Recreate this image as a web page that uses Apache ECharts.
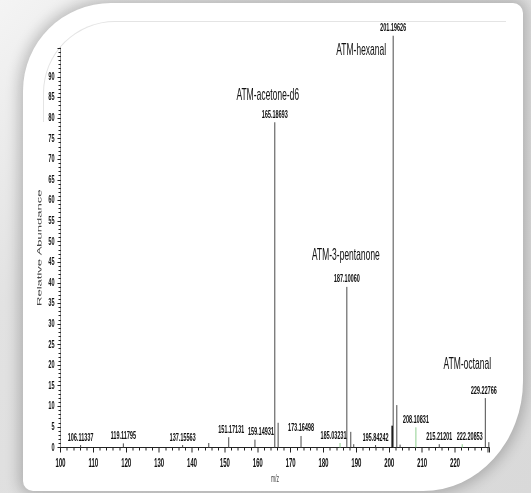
<!DOCTYPE html>
<html>
<head>
<meta charset="utf-8">
<script src="https://cdn.jsdelivr.net/npm/echarts@6/dist/echarts.min.js"></script>
<style>
  html, body { margin: 0; padding: 0; width: 531px; height: 493px; overflow: hidden; background: #e9e9e9; }
  #wrap { position: absolute; left: 0; top: 0; width: 531px; height: 493px; overflow: hidden;
          background: linear-gradient(135deg, #f4f4f4 0%, #e2e2e2 30%, #d9d9d9 100%); }
  #card { position: absolute; left: 23px; top: 3px; width: 500px; height: 488px; background: #fff;
          border-radius: 88px 10px 100px 10px / 88px 10px 110px 10px;
          box-shadow: 0 0 14px 4px rgba(0,0,0,0.22); }
  #inner { position: absolute; left: 43px; top: 21px; width: 462px; height: 100px;
           border-top: 1px solid #e4e4e4; border-left: 1px solid #e4e4e4; border-top-left-radius: 72px; }
  #chart { position: absolute; left: 0; top: 0; width: 1062px; height: 493px;
           transform: scaleX(0.5); transform-origin: 0 0; }
</style>
</head>
<body>
<div id="wrap">
  <div id="card"></div>
  <div id="inner"></div>
  <div id="chart"></div>
</div>
<script>
// ---- data ----
const mz = [106.11337, 119.11795, 137.15563, 145.1, 151.17131, 159.14931, 165.18693, 166.2,
            173.16498, 185.03231, 187.10060, 188.3, 189.2, 195.84242, 200.9, 201.19626,
            202.3, 203.3, 208.10831, 215.21201, 222.20853, 229.22766, 230.3];
const intensity = [0.6, 1.0, 0.6, 1.1, 2.5, 1.9, 79.0, 6.0,
                   2.8, 1.1, 39.0, 3.8, 0.8, 0.6, 5.3, 100,
                   10.3, 0.7, 4.9, 0.8, 0.8, 12.0, 1.3];
const peakLabels = ['106.11337', '119.11795', '137.15563', '', '151.17131', '159.14931', '165.18693', '',
                    '173.16498', '185.03231', '187.10060', '', '', '195.84242', '', '201.19626',
                    '', '', '208.10831', '215.21201', '222.20853', '229.22766', ''];
const compounds = ['', '', '', '', '', '', 'ATM-acetone-d6', '',
                   '', '', 'ATM-3-pentanone', '', '', '', '', 'ATM-hexanal',
                   '', '', '', '', '', 'ATM-octanal', ''];
const xTicks = [100, 110, 120, 130, 140, 150, 160, 170, 180, 190, 200, 210, 220];
const yTicks = [0, 5, 10, 15, 20, 25, 30, 35, 40, 45, 50, 55, 60, 65, 70, 75, 80, 85, 90];

// ---- styling (chart space is 2x wider, squeezed by CSS scaleX(0.5)) ----
const FONT = "'Liberation Sans', Arial, sans-serif";
const greenPeaks = new Set(['185.03231', '208.10831', '222.20853']);
const numDx = { '151.17131': 5, '159.14931': 12, '185.03231': -13, '222.20853': 15, '229.22766': -3 };
const compOffset = {
  'ATM-acetone-d6': [-14, -27],
  'ATM-3-pentanone': [-2, -32],
  'ATM-hexanal': [-64, 15],
  'ATM-octanal': [-36, -34]
};

const chart = echarts.init(document.getElementById('chart'), null, { renderer: 'canvas' });
chart.setOption({
  backgroundColor: 'transparent',
  animation: false,
  grid: { left: 121, right: 83, top: 48, bottom: 45.5 },
  xAxis: {
    type: 'value', min: 100, max: 230.5, interval: 10,
    name: 'm/z', nameLocation: 'middle', nameGap: 19,
    nameTextStyle: { fontSize: 10, color: '#444', fontFamily: FONT },
    axisLine: { lineStyle: { color: '#222', width: 1 } },
    axisTick: { length: 5, lineStyle: { color: '#222', width: 2 } },
    minorTick: { show: true, splitNumber: 5, length: 3, lineStyle: { color: '#222', width: 2 } },
    splitLine: { show: false },
    axisLabel: {
      fontSize: 12, color: '#111', fontWeight: 'bold', fontFamily: FONT, margin: 10,
      formatter: v => xTicks.includes(v) ? String(v) : ''
    }
  },
  yAxis: {
    type: 'value', min: 0, max: 97, interval: 5,
    name: 'Relative Abundance', nameLocation: 'middle', nameGap: 26, nameRotate: 90,
    nameTextStyle: { fontSize: 13, color: '#444', fontFamily: FONT },
    axisLine: { show: true, lineStyle: { color: '#222', width: 1 } },
    axisTick: { show: true, length: 6, lineStyle: { color: '#222', width: 1 } },
    minorTick: { show: true, splitNumber: 5, length: 4, lineStyle: { color: '#222', width: 1 } },
    splitLine: { show: false },
    axisLabel: {
      fontSize: 11, color: '#111', fontWeight: 'bold', fontFamily: FONT, margin: 12,
      formatter: v => yTicks.includes(v) ? String(v) : ''
    }
  },
  series: [{
    type: 'custom',
    clip: false,
    data: mz.map((m, i) => [m, intensity[i]]),
    renderItem: function (params, api) {
      const i = params.dataIndex;
      const top = api.coord([api.value(0), api.value(1)]);
      const base = api.coord([api.value(0), 0]);
      const lab = peakLabels[i];
      let stroke = '#4a4a4a', lw = 2;
      if (greenPeaks.has(lab)) stroke = '#8fcf8f';
      if (i === 14) { stroke = '#000'; lw = 3; }
      const children = [{
        type: 'line',
        shape: { x1: top[0], y1: base[1], x2: top[0], y2: top[1] },
        style: { stroke: stroke, lineWidth: lw }
      }];
      if (lab) {
        children.push({
          type: 'text', x: top[0] + (numDx[lab] || 0), y: top[1] - 2,
          style: { text: lab, fill: '#111', fontSize: 11, fontWeight: 'bold', fontFamily: FONT,
                   align: 'center', verticalAlign: 'bottom' }
        });
      }
      const comp = compounds[i];
      if (comp) {
        const off = compOffset[comp] || [0, -30];
        children.push({
          type: 'text', x: top[0] + off[0], y: top[1] + off[1],
          style: { text: comp, fill: '#111', fontSize: 17, fontFamily: FONT,
                   align: 'center', verticalAlign: 'middle' }
        });
      }
      return { type: 'group', children: children };
    }
  }]
});
</script>
</body>
</html>
